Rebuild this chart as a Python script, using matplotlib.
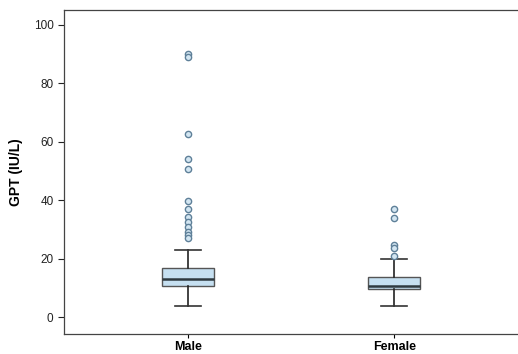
import numpy as np
import matplotlib.pyplot as plt

plt.rcParams['font.family'] = ['Liberation Sans', 'DejaVu Sans']

groups = ['Male', 'Female']
# box statistics: whislo, q1, med, q3, whishi
male_stats = [3.8, 10.6, 13.0, 16.8, 23.0]
female_stats = [3.8, 9.6, 10.6, 13.7, 19.9]
male_out = [90, 89, 62.7, 54, 50.7, 39.7, 37, 34.3, 32.5, 30.8, 29, 28, 27]
female_out = [37, 34, 24.7, 23.6, 20.9]

stats = []
for lab, s, out in zip(groups, [male_stats, female_stats], [male_out, female_out]):
    stats.append(dict(label=lab, whislo=s[0], q1=s[1], med=s[2], q3=s[3], whishi=s[4], fliers=out))

fig = plt.figure(figsize=(5.18, 3.54), dpi=100)
ax = fig.add_axes([64/518, 20/354, 1 - 64/518, 324/354])

ax.bxp(stats, positions=[1, 2], widths=0.25, patch_artist=True,
       boxprops=dict(facecolor='#c6e0f1', edgecolor='#555555', linewidth=1.0),
       medianprops=dict(color='#2f3a40', linewidth=1.8),
       whiskerprops=dict(color='#222222', linewidth=1.2),
       capprops=dict(color='#333333', linewidth=1.2),
       flierprops=dict(marker='o', markersize=4.5, markerfacecolor='#d3e6f2',
                       markeredgecolor='#5f8099', markeredgewidth=1.0))

ax.set_xlim(0.4, 2.6)
ax.set_ylim(-5.8, 105.1)
ax.set_yticks([0, 20, 40, 60, 80, 100])
ax.set_xticks([1, 2])
ax.set_xticklabels(groups, fontsize=9, fontweight='bold')
ax.tick_params(axis='y', labelsize=8.5, length=4, width=0.8, colors='#222222')
ax.tick_params(axis='x', length=3, width=0.8, pad=2)
ax.set_ylabel('GPT (IU/L)', fontsize=10, fontweight='bold', labelpad=8)

ax.spines['right'].set_visible(False)
for sp in ['left', 'top', 'bottom']:
    ax.spines[sp].set_color('#444444')
    ax.spines[sp].set_linewidth(0.9)

fig.savefig('out.png', dpi=100)
